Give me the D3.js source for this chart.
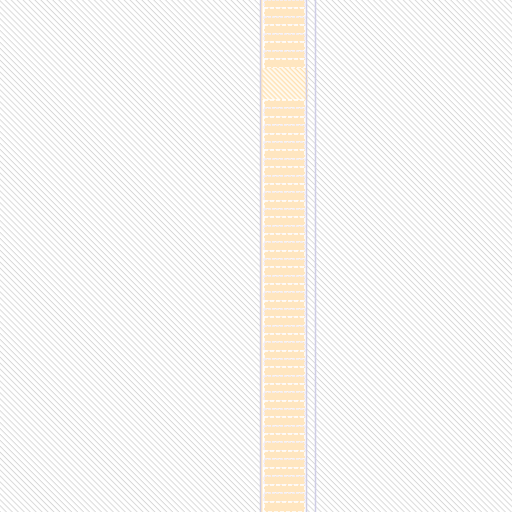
<!DOCTYPE html>
<html lang="en">
<head>
    <meta charset="UTF-8">
    <title>Chart</title>
    <script src="https://d3js.org/d3.v7.min.js"></script>
    <style>
        body { margin: 0; background: #fff; }
    </style>
</head>
<body>
    <svg width="512" height="512"></svg>
    <script>
        // segment sizes of the stacked column, top to bottom
        var segments = [8, 9, 8, 9, 8, 9, 8, 9,
                        32,
                        8, 9, 8, 9, 8, 8, 9, 8, 9, 8,
                        8, 9, 8, 8, 9, 8, 8, 9, 8, 8,
                        9, 8, 8, 9, 8, 8, 9, 8, 8, 9,
                        8, 8, 9, 8, 8, 9, 8, 8, 9, 8,
                        8, 9, 8, 9, 8, 9, 8, 9, 10];
        var hatchedIndex = [8];
        var categories = ["A"];
        var gridValues = [0, 1];

        var svg = d3.select("svg");
        var width = 512, height = 512;

        var defs = svg.append("defs");
        var bg = defs.append("pattern")
            .attr("id", "bgHatch")
            .attr("patternUnits", "userSpaceOnUse")
            .attr("width", 4.2).attr("height", 4.2)
            .attr("patternTransform", "rotate(45)");
        bg.append("rect").attr("width", 4.2).attr("height", 4.2).attr("fill", "#fff");
        bg.append("line")
            .attr("x1", 0).attr("y1", 0.5).attr("x2", 4.2).attr("y2", 0.5)
            .attr("stroke", "#d6d6d6").attr("stroke-width", 0.9);

        var segHatch = defs.append("pattern")
            .attr("id", "segHatch")
            .attr("patternUnits", "userSpaceOnUse")
            .attr("width", 3.5).attr("height", 3.5)
            .attr("patternTransform", "rotate(45)");
        segHatch.append("rect").attr("width", 3.5).attr("height", 3.5).attr("fill", "#fffaf0");
        segHatch.append("line")
            .attr("x1", 0).attr("y1", 0.5).attr("x2", 3.5).attr("y2", 0.5)
            .attr("stroke", "#ffe0b0").attr("stroke-width", 1.7);

        svg.append("rect")
            .attr("width", width).attr("height", height)
            .attr("fill", "url(#bgHatch)");

        var total = d3.sum(segments);
        var stacked = [];
        var acc = 0;
        segments.forEach(function(v, i) {
            stacked.push({ i: i, y0: acc, y1: acc + v });
            acc += v;
        });

        var x = d3.scaleBand().domain(categories).range([261, 307]).padding(0);
        var xGrid = d3.scaleLinear().domain([0, 1]).range([261, 307]);
        var y = d3.scaleLinear().domain([0, total]).range([0, height]);

        // column background
        svg.append("rect")
            .attr("x", x("A")).attr("y", 0)
            .attr("width", x.bandwidth()).attr("height", height)
            .attr("fill", "#fff");

        svg.append("g")
            .selectAll("rect.seg")
            .data(stacked)
            .join("rect")
            .classed("seg", true)
            .attr("x", function(d) { return hatchedIndex.includes(d.i) ? x("A") + 1 : x("A") + 3; })
            .attr("y", function(d) { return y(d.y0); })
            .attr("width", function(d) { return hatchedIndex.includes(d.i) ? x.bandwidth() : x.bandwidth() - 5; })
            .attr("height", function(d) { return y(d.y1) - y(d.y0); })
            .attr("fill", function(d) { return hatchedIndex.includes(d.i) ? "url(#segHatch)" : "#ffe6c0"; })
            .attr("stroke", function(d) { return d.i % 2 ? "#fff" : "#f4f0fa"; })
            .attr("stroke-width", function(d) { return hatchedIndex.includes(d.i) ? 0 : 1.6; })
            .attr("stroke-dasharray", function(d) { return d.i % 2 ? "4,2" : "3,1"; });

        // thin orange strip on the left edge of the column
        svg.append("rect")
            .attr("x", x("A")).attr("y", 0)
            .attr("width", 1.5).attr("height", height)
            .attr("fill", "#ffe6c0");

        // vertical lines
        svg.append("g")
            .selectAll("line.grid")
            .data(gridValues)
            .join("line")
            .classed("grid", true)
            .attr("x1", function(d) { return xGrid(d) - 0.5; })
            .attr("x2", function(d) { return xGrid(d) - 0.5; })
            .attr("y1", 0).attr("y2", height)
            .attr("stroke", "#cfcde6").attr("stroke-width", 1.5);

        svg.append("line")
            .attr("x1", xGrid(1) + 8.5).attr("x2", xGrid(1) + 8.5)
            .attr("y1", 0).attr("y2", height)
            .attr("stroke", "#cfcde6").attr("stroke-width", 1.5);
    </script>
</body>
</html>
